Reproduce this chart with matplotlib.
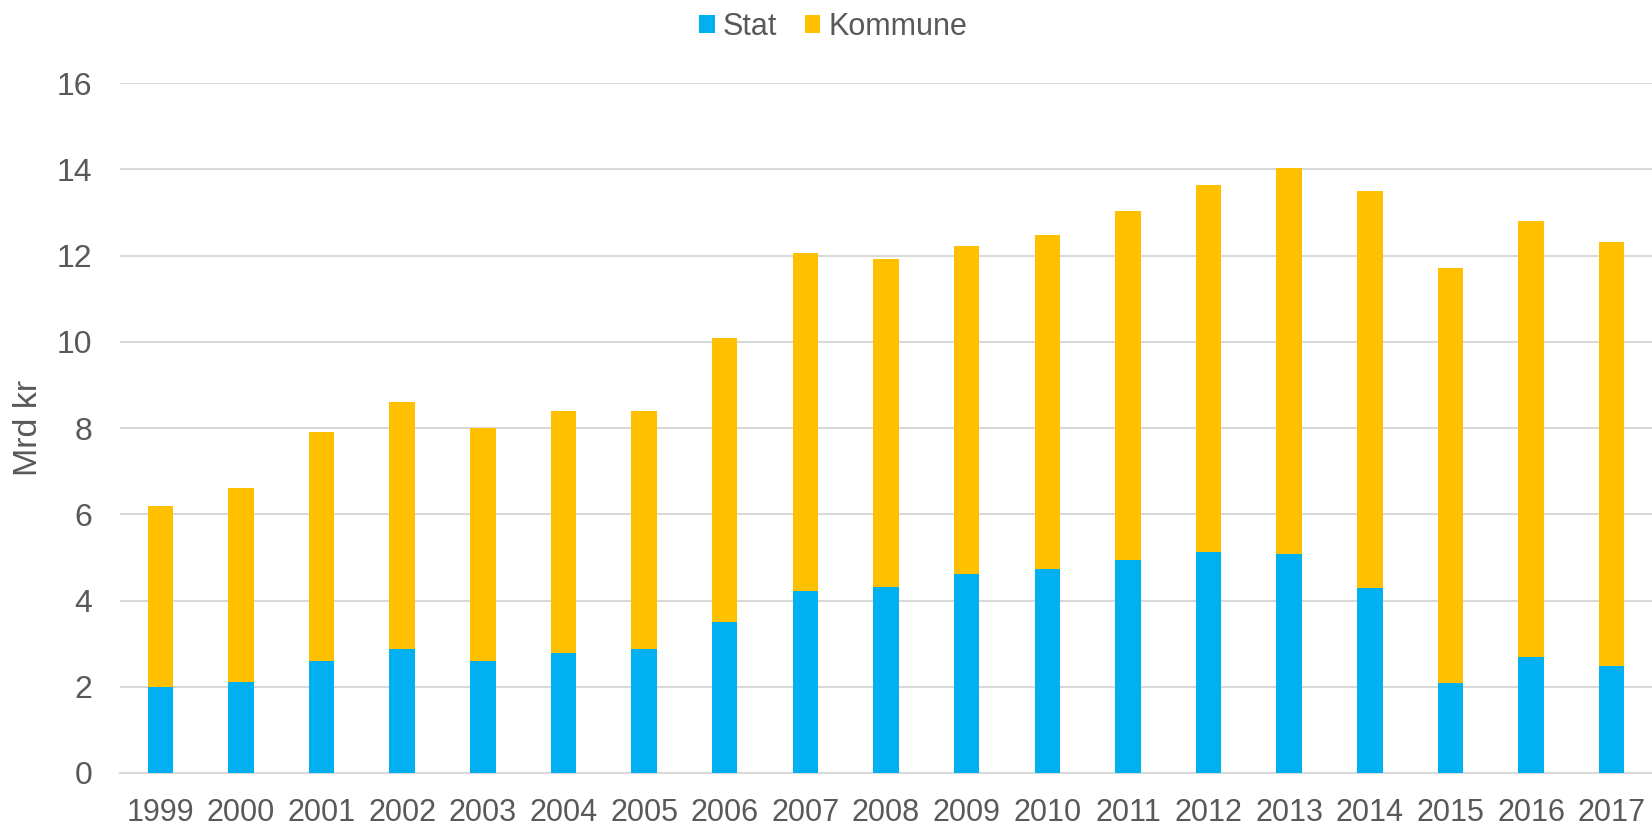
import matplotlib
matplotlib.use("Agg")
import matplotlib.pyplot as plt
import numpy as np
from matplotlib.patches import Patch

years = ["1999", "2000", "2001", "2002", "2003", "2004", "2005", "2006", "2007", "2008",
         "2009", "2010", "2011", "2012", "2013", "2014", "2015", "2016", "2017"]
stat = [2.0, 2.1, 2.59, 2.88, 2.59, 2.79, 2.88, 3.51, 4.23, 4.32,
        4.62, 4.72, 4.93, 5.13, 5.08, 4.29, 2.09, 2.69, 2.49]
kommune = [4.2, 4.5, 5.31, 5.73, 5.41, 5.61, 5.52, 6.58, 7.83, 7.60,
           7.61, 7.76, 8.11, 8.51, 8.96, 9.21, 9.62, 10.12, 9.82]
yticks = [0, 2, 4, 6, 8, 10, 12, 14, 16]

STAT_C = "#00B0F0"
KOM_C = "#FFC000"
TXT = "#595959"
GRID = "#D9D9D9"

plt.rcParams["font.family"] = ["Liberation Sans", "DejaVu Sans"]

fig = plt.figure(figsize=(16.52, 8.25), dpi=100)
ax = fig.add_axes([120 / 1652, 52 / 825, 1 - 120 / 1652, (773 - 83) / 825])

x = np.arange(len(years))
w = 0.316
ax.bar(x, stat, width=w, color=STAT_C, zorder=3)
ax.bar(x, kommune, width=w, bottom=stat, color=KOM_C, zorder=3)

ax.set_xlim(-0.5, len(years) - 0.5)
ax.set_ylim(0, 16)
ax.set_yticks(yticks)
ax.set_xticks(x)
ax.set_xticklabels(years)
ax.yaxis.grid(True, color=GRID, linewidth=1.5, zorder=0)
ax.set_axisbelow(True)
for s in ["top", "right", "left"]:
    ax.spines[s].set_visible(False)
ax.spines["bottom"].set_color(GRID)
ax.spines["bottom"].set_linewidth(1.5)
ax.tick_params(axis="both", length=0, labelcolor=TXT)
ax.tick_params(axis="y", pad=20, labelsize=23)
ax.tick_params(axis="x", pad=18, labelsize=22)

fig.text(28.5 / 1652, 1 - 427.5 / 825, "Mrd kr", rotation=90, ha="center", va="center",
         fontsize=24.5, color=TXT)

handles = [Patch(facecolor=STAT_C), Patch(facecolor=KOM_C)]
fig.legend(handles, ["Stat", "Kommune"], loc="center", bbox_to_anchor=(833 / 1652, 1 - 27 / 825),
           ncol=2, frameon=False, fontsize=22, labelcolor=TXT, handlelength=0.52,
           handleheight=0.52, handletextpad=0.26, columnspacing=0.9, borderaxespad=0, borderpad=0)

fig.savefig("out.png", dpi=100)
